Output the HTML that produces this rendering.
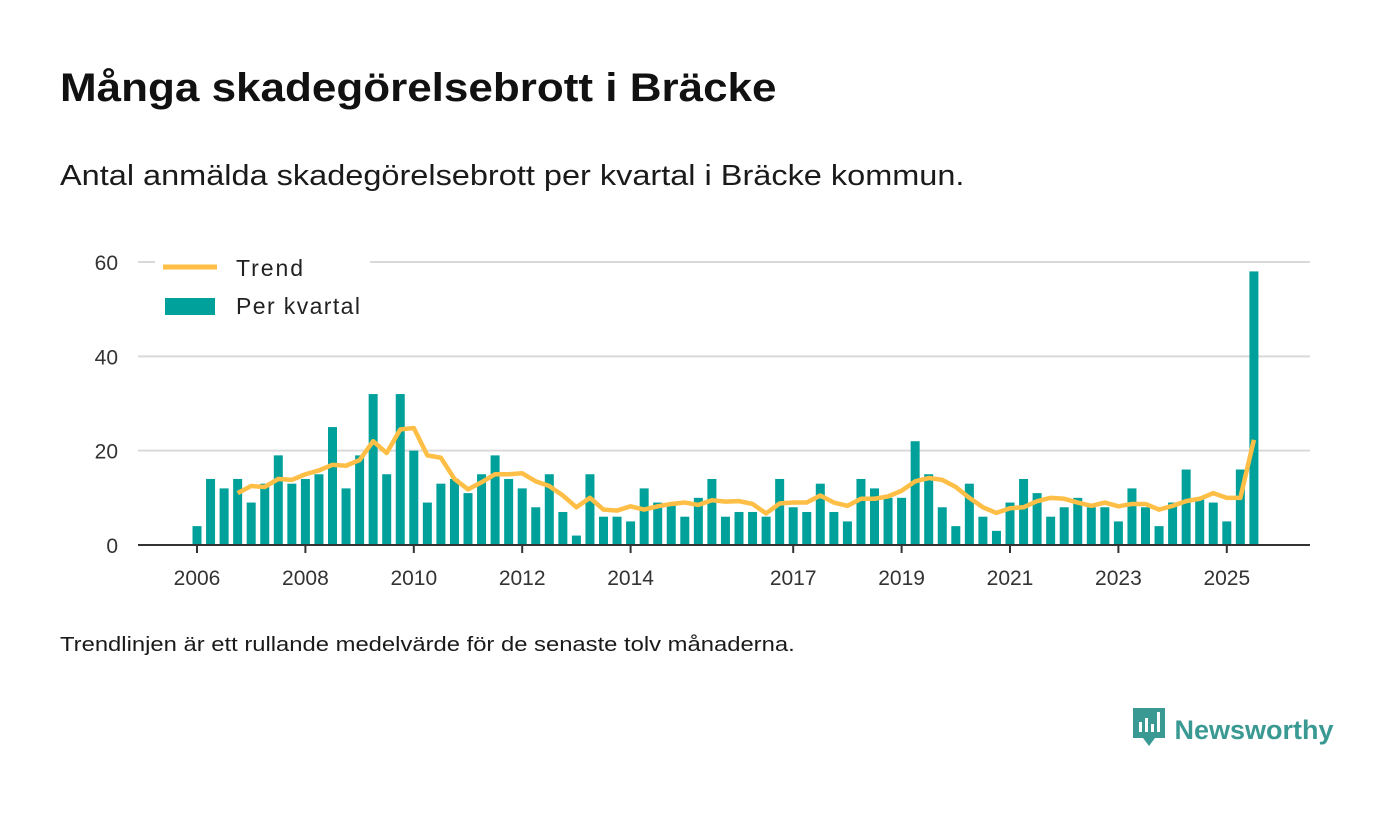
<!DOCTYPE html>
<html><head><meta charset="utf-8"><style>
body{margin:0;background:#fff;width:1400px;height:813px;overflow:hidden;font-family:"Liberation Sans",sans-serif;color:#1a1a1a}
#title{position:absolute;left:60px;top:66px;font-size:40px;font-weight:bold;margin:0;color:#111;transform-origin:0 0;transform:scaleX(1.1);white-space:nowrap}
#sub{position:absolute;left:60px;top:160px;font-size:29px;margin:0;transform-origin:0 0;transform:scaleX(1.12);white-space:nowrap}
#note{position:absolute;left:60px;top:634px;font-size:20px;margin:0;transform-origin:0 0;transform:scaleX(1.19);white-space:nowrap}
#logo{position:absolute;left:1133px;top:712px;font-size:27px;font-weight:bold;color:#3a9a93}
svg{position:absolute;left:0;top:0}
</style></head><body>
<h1 id="title">Många skadegörelsebrott i Bräcke</h1>
<p id="sub">Antal anmälda skadegörelsebrott per kvartal i Bräcke kommun.</p>
<p id="note">Trendlinjen är ett rullande medelvärde för de senaste tolv månaderna.</p>
<div id="logo"><svg width="34" height="40" viewBox="0 0 34 40" style="position:relative;vertical-align:middle;top:-4px"><path d="M0 0h32v30H22l-6 8-6-8H0z" fill="#3a9a93"/><rect x="6" y="14" width="3" height="10" fill="#fff"/><rect x="12" y="10" width="3" height="14" fill="#fff"/><rect x="18" y="16" width="3" height="8" fill="#fff"/><rect x="24" y="4" width="3" height="20" fill="#fff"/></svg> Newsworthy</div>
<svg id="chart" width="1400" height="813"></svg>
<script>
const yTicks=[0,20,40,60];
const yearLabels=["2006","2008","2010","2012","2014","2017","2019","2021","2023","2025"];
const yearIndex=[0,8,16,24,32,44,52,60,68,76];
const perKvartal=[4,14,12,14, 9,13,19,13, 14,15,25,12, 19,32,15,32, 20,9,13,14, 11,15,19,14, 12,8,15,7, 2,15,6,6, 5,12,9,9, 6,10,14,6, 7,7,6,14, 8,7,13,7, 5,14,12,10, 10,22,15,8, 4,13,6,3, 9,14,11,6, 8,10,8,8, 5,12,8,4, 9,16,10,9, 5,16,58];
const trendStart=3;
const trend=[11,12.5,12.3,14,13.8,15,15.8,17,16.8,18,22,19.5,24.5,24.8,19,18.5,14,11.8,13.3,15,15,15.2,13.5,12.5,10.5,8,10,7.5,7.3,8.2,7.5,8.2,8.7,9,8.5,9.5,9.2,9.3,8.7,6.7,8.8,9,9,10.5,9,8.3,9.8,9.8,10.3,11.5,13.5,14.2,13.8,12.3,10,8,6.8,7.8,8,9.3,10,9.8,9,8.3,9,8.2,8.7,8.7,7.5,8.3,9.3,9.8,11,10,10,22.3];
const NS="http://www.w3.org/2000/svg";
const svg=document.getElementById('chart');
const x=i=>197+i*13.55;
const y=v=>545-v*4.717;
function mk(t,a){const e=document.createElementNS(NS,t);for(const k in a)e.setAttribute(k,a[k]);svg.appendChild(e);return e;}
yTicks.forEach(v=>{
  if(v>0){const g=mk('line',{x1:138,x2:1310,y1:y(v),y2:y(v),stroke:'#d9d9d9','stroke-width':2});
  
  }
  const t=mk('text',{x:118,y:y(v)+8,'text-anchor':'end','font-size':21,fill:'#333','font-family':'Liberation Sans'});
  t.textContent=v;
  
  
});
perKvartal.forEach((v,i)=>{
  const r=mk('rect',{x:x(i)-4.5,y:y(v),width:9,height:v*4.717,fill:'#00a19a'});
  
  
});
const ax=mk('line',{x1:138,x2:1310,y1:545,y2:545,stroke:'#333','stroke-width':2});


yearLabels.forEach((l,k)=>{
  const xi=x(yearIndex[k]);
  const tk=mk('line',{x1:xi,x2:xi,y1:545,y2:553,stroke:'#333','stroke-width':2});
  
  
  const t=mk('text',{x:xi,y:585,'text-anchor':'middle','font-size':21,fill:'#333','font-family':'Liberation Sans'});
  t.textContent=l;
  
  
});
const pts=trend.map((v,i)=>x(i+trendStart)+','+y(v)).join(' ');
const pl=mk('polyline',{points:pts,fill:'none',stroke:'#ffbe45','stroke-width':4.5,'stroke-linejoin':'round'});


const lb=mk('rect',{x:155,y:250,width:215,height:80,fill:'#fff'});


const l1=mk('line',{x1:163,x2:217,y1:267,y2:267,stroke:'#ffbe45','stroke-width':5});


const t1=mk('text',{x:236,y:276,'font-size':23,fill:'#222','font-family':'Liberation Sans',textLength:67});t1.textContent='Trend';


const r2=mk('rect',{x:165,y:298,width:50,height:17,fill:'#00a19a'});


const t2=mk('text',{x:236,y:314,'font-size':23,fill:'#222','font-family':'Liberation Sans',textLength:124});t2.textContent='Per kvartal';


</script>
</body></html>
